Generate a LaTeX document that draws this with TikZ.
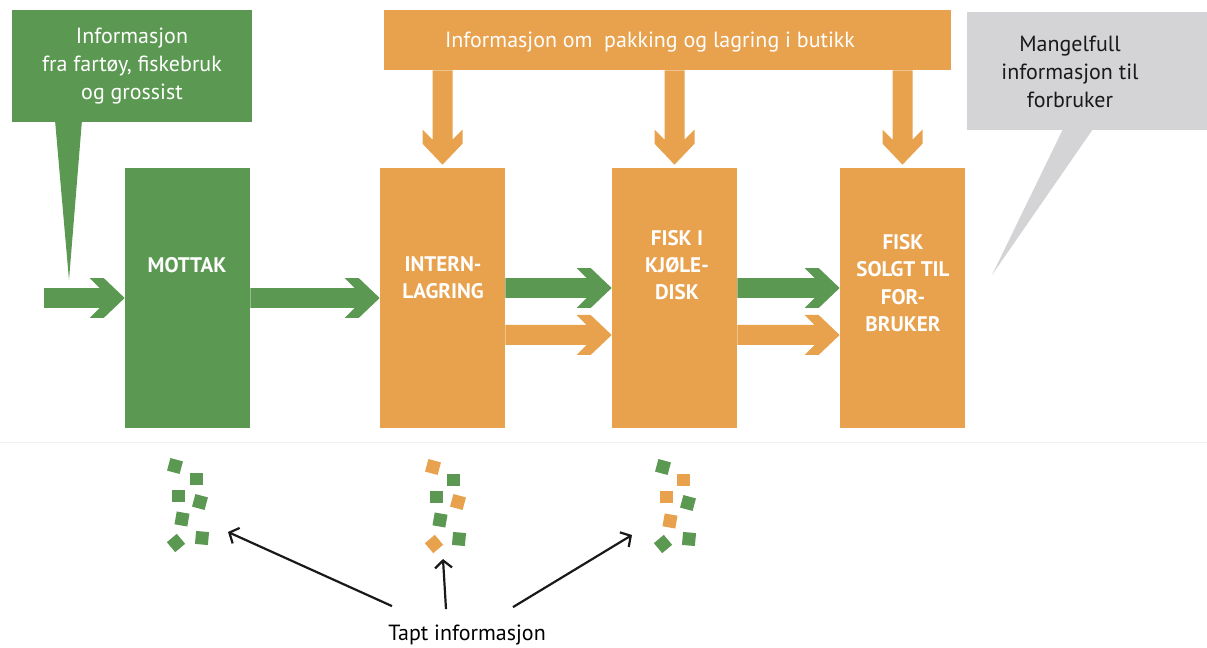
\documentclass[tikz,border=0pt]{standalone}
\usepackage{fontspec}
\setmainfont{PT Sans}
\usetikzlibrary{calc,arrows.meta}

\definecolor{groenn}{RGB}{91,152,82}
\definecolor{oransje}{RGB}{232,161,77}
\definecolor{graa}{RGB}{212,212,214}

\tikzset{
  tykkpil/.style={to path={
    ($(\tikztostart)!0.2cm!90:(\tikztotarget)$)
    -- ($(\tikztotarget)!0.5cm!(\tikztostart)!0.2cm!90:(\tikztotarget)$)
    -- ($(\tikztotarget)!0.7cm!(\tikztostart)!0.4cm!90:(\tikztotarget)$)
    -- ($(\tikztotarget)!0.42cm!(\tikztostart)!0.4cm!90:(\tikztotarget)$)
    -- (\tikztotarget)
    -- ($(\tikztotarget)!0.42cm!(\tikztostart)!0.4cm!-90:(\tikztotarget)$)
    -- ($(\tikztotarget)!0.7cm!(\tikztostart)!0.4cm!-90:(\tikztotarget)$)
    -- ($(\tikztotarget)!0.5cm!(\tikztostart)!0.2cm!-90:(\tikztotarget)$)
    -- ($(\tikztostart)!0.2cm!-90:(\tikztotarget)$) -- cycle}}
}

\begin{document}
\begin{tikzpicture}[x=0.02cm,y=-0.02cm,
    boks/.style={minimum width=2.5cm,minimum height=5.2cm,inner sep=0},
    etikett/.style={text=white,font=\fontsize{12}{15.5}\selectfont\bfseries,align=center,inner sep=0},
    infotekst/.style={font=\fontsize{12.5}{15.8}\selectfont,align=center,inner sep=0},
    brett/.style={minimum size=0.26cm,inner sep=0},
    tynnpil/.style={line width=1.25pt,black!90,-{Straight Barb[length=1.5mm,width=3.4mm]}}]
  \useasboundingbox (0,0) rectangle (1207,648);
  \draw[black!6] (0,442) -- (1207,442);

  % snakkebobler
  \node[fill=groenn,minimum width=4.8cm,minimum height=2.24cm,infotekst,text=white] (kilde) at (132,66)
    {Informasjon\\fra fartøy, fiskebruk\\og grossist};
  \fill[groenn] (55,120) -- (69,280) -- (82,120) -- cycle;
  \node[fill=graa,minimum width=4.8cm,minimum height=2.36cm] (mangel) at (1087,71) {};
  \fill[graa] (1063,129) -- (992,275) -- (1093,129) -- cycle;
  \node[infotekst,text=black!90] (mangeltekst) at (1070,72) {Mangelfull\\informasjon til\\forbruker};

  % butikk
  \node[fill=oransje,minimum width=11.34cm,minimum height=1.2cm] (pakking) at (667.5,40) {};
  \node[infotekst,text=white] (pakketekst) at (650,42) {Informasjon om\ \ pakking og lagring i butikk};

  % ledd i kjeden
  \node[boks,fill=groenn] (mottak) at (187.5,298) {};
  \node[boks,fill=oransje] (intern) at (442.5,298) {};
  \node[boks,fill=oransje] (kjole) at (674.5,298) {};
  \node[boks,fill=oransje] (solgt) at (902.5,298) {};
  \node[etikett] (mottaktekst) at (187,265) {MOTTAK};
  \node[etikett] (interntekst) at (443,278) {INTERN-\\LAGRING};
  \node[etikett] (kjoletekst) at (677,265) {FISK I\\KJØLE-\\DISK};
  \node[etikett] (solgttekst) at (903,283) {FISK\\SOLGT TIL\\FOR-\\BRUKER};

  % flyt
  \coordinate (inn) at (44,298);
  \fill[groenn] (inn) to[tykkpil] (mottak.west);
  \fill[groenn] (mottak.east) to[tykkpil] (intern.west);
  \fill[groenn] ([yshift=0.2cm]intern.east) to[tykkpil] ([yshift=0.2cm]kjole.west);
  \fill[oransje] ([yshift=-0.74cm]intern.east) to[tykkpil] ([yshift=-0.74cm]kjole.west);
  \fill[groenn] ([yshift=0.2cm]kjole.east) to[tykkpil] ([yshift=0.2cm]solgt.west);
  \fill[oransje] ([yshift=-0.74cm]kjole.east) to[tykkpil] ([yshift=-0.74cm]solgt.west);
  \foreach \b in {intern,kjole,solgt}
    \fill[oransje] (\b.north |- pakking.south) to[tykkpil] ([yshift=0.06cm]\b.north);

  % tapt informasjon
  \foreach \x/\y/\v/\f [count=\i] in {
      175/466/-15/groenn, 196/479/0/groenn, 178/496/0/groenn, 200/502/-15/groenn,
      182/519/-10/groenn, 176/543/40/groenn, 202/538/-5/groenn,
      433/467/-15/oransje, 453/480/0/groenn, 436/497/0/groenn, 458/502/-15/oransje,
      440/520/-10/groenn, 434/544/40/oransje, 459/539/-5/groenn,
      663/467/-15/groenn, 683/480/0/oransje, 666/497/0/oransje, 688/503/-15/groenn,
      670/521/-10/oransje, 663/544/40/groenn, 689/539/-5/groenn}
    \node[brett,fill=\f,rotate=\v] (bit\i) at (\x,\y) {};
  \node[infotekst,anchor=base,text=black] (tapt) at (467,640) {Tapt informasjon};
  \coordinate (tap1) at (228,532);
  \coordinate (tap2) at (443,559);
  \coordinate (tap3) at (632,535);
  \draw[tynnpil] ($(tapt.north)+(-75,-18)$) -- (tap1);
  \draw[tynnpil] ($(tapt.north)+(-21,-15)$) -- (tap2);
  \draw[tynnpil] ($(tapt.north)+(46,-17)$) -- (tap3);
\end{tikzpicture}
\end{document}
